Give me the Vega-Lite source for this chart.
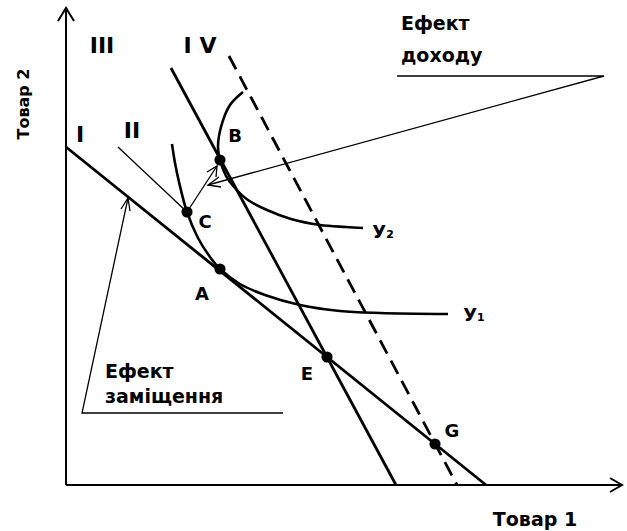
{
  "$schema": "https://vega.github.io/schema/vega-lite/v6.json",
  "width": 627,
  "height": 531,
  "autosize": "none",
  "padding": 0,
  "background": "white",
  "config": {"view": {"stroke": null}},
  "datasets": {
    "straight": [
      {"id": "I", "o": 0, "x": 0, "y": 338},
      {"id": "I", "o": 1, "x": 420, "y": 0},
      {"id": "IV", "o": 0, "x": 105, "y": 417},
      {"id": "IV", "o": 1, "x": 330, "y": 0}
    ],
    "curves": [
      {"id": "Y1", "o": 0, "x": 106, "y": 341},
      {"id": "Y1", "o": 1, "x": 109, "y": 322},
      {"id": "Y1", "o": 2, "x": 113, "y": 303},
      {"id": "Y1", "o": 3, "x": 121, "y": 273},
      {"id": "Y1", "o": 4, "x": 132, "y": 247},
      {"id": "Y1", "o": 5, "x": 144, "y": 228},
      {"id": "Y1", "o": 6, "x": 154, "y": 216},
      {"id": "Y1", "o": 7, "x": 174, "y": 201},
      {"id": "Y1", "o": 8, "x": 199, "y": 190},
      {"id": "Y1", "o": 9, "x": 234, "y": 180},
      {"id": "Y1", "o": 10, "x": 274, "y": 174},
      {"id": "Y1", "o": 11, "x": 314, "y": 172},
      {"id": "Y1", "o": 12, "x": 382, "y": 171},
      {"id": "Y2", "o": 0, "x": 177, "y": 393},
      {"id": "Y2", "o": 1, "x": 164, "y": 380},
      {"id": "Y2", "o": 2, "x": 155, "y": 358},
      {"id": "Y2", "o": 3, "x": 152, "y": 338},
      {"id": "Y2", "o": 4, "x": 154, "y": 325},
      {"id": "Y2", "o": 5, "x": 160, "y": 309},
      {"id": "Y2", "o": 6, "x": 168, "y": 298},
      {"id": "Y2", "o": 7, "x": 182, "y": 285},
      {"id": "Y2", "o": 8, "x": 201, "y": 275},
      {"id": "Y2", "o": 9, "x": 225, "y": 266},
      {"id": "Y2", "o": 10, "x": 254, "y": 260},
      {"id": "Y2", "o": 11, "x": 280, "y": 258},
      {"id": "Y2", "o": 12, "x": 297, "y": 257}
    ],
    "dashed": [
      {"id": "IVd", "o": 0, "x": 163, "y": 429},
      {"id": "IVd", "o": 1, "x": 391, "y": 0}
    ],
    "axes": [
      {"id": "yax", "o": 0, "x": 0, "y": 0},
      {"id": "yax", "o": 1, "x": 0, "y": 477},
      {"id": "yarr", "o": 0, "x": -8, "y": 464},
      {"id": "yarr", "o": 1, "x": 0, "y": 477},
      {"id": "yarr", "o": 2, "x": 8, "y": 464},
      {"id": "xax", "o": 0, "x": 0, "y": 0},
      {"id": "xax", "o": 1, "x": 556, "y": 0},
      {"id": "xarr", "o": 0, "x": 544, "y": 7},
      {"id": "xarr", "o": 1, "x": 556, "y": 0},
      {"id": "xarr", "o": 2, "x": 544, "y": -7}
    ],
    "thin": [
      {"id": "II", "o": 0, "x": 52, "y": 338},
      {"id": "II", "o": 1, "x": 121, "y": 273},
      {"id": "inc", "o": 0, "x": 331, "y": 409},
      {"id": "inc", "o": 1, "x": 538, "y": 409},
      {"id": "inc", "o": 2, "x": 142, "y": 300},
      {"id": "inch", "o": 0, "x": 155, "y": 298},
      {"id": "inch", "o": 1, "x": 142, "y": 300},
      {"id": "inch", "o": 2, "x": 153, "y": 308},
      {"id": "cb", "o": 0, "x": 121, "y": 273},
      {"id": "cb", "o": 1, "x": 151, "y": 319},
      {"id": "cbh", "o": 0, "x": 150, "y": 308},
      {"id": "cbh", "o": 1, "x": 151, "y": 319},
      {"id": "cbh", "o": 2, "x": 141, "y": 313},
      {"id": "sub", "o": 0, "x": 217, "y": 72},
      {"id": "sub", "o": 1, "x": 16, "y": 72},
      {"id": "sub", "o": 2, "x": 62, "y": 287},
      {"id": "subh", "o": 0, "x": 64, "y": 274},
      {"id": "subh", "o": 1, "x": 62, "y": 287},
      {"id": "subh", "o": 2, "x": 55, "y": 276}
    ],
    "pts": [
      {"name": "B", "x": 154, "y": 325},
      {"name": "C", "x": 121, "y": 273},
      {"name": "A", "x": 154, "y": 216},
      {"name": "E", "x": 261, "y": 128},
      {"name": "G", "x": 369, "y": 41}
    ],
    "numerals": [
      {"t": "III", "x": 36, "y": 432},
      {"t": "I V", "x": 134, "y": 432},
      {"t": "I", "x": 14, "y": 343},
      {"t": "II", "x": 66, "y": 347}
    ],
    "ptlabels": [
      {"t": "B", "x": 169, "y": 343},
      {"t": "C", "x": 139, "y": 257},
      {"t": "A", "x": 136, "y": 185},
      {"t": "E", "x": 241, "y": 105},
      {"t": "G", "x": 386, "y": 48},
      {"t": "У₂", "x": 317, "y": 247},
      {"t": "У₁", "x": 408, "y": 164}
    ],
    "notes": [
      {"t": "Ефект", "x": 335, "y": 455},
      {"t": "доходу", "x": 335, "y": 423},
      {"t": "Ефект", "x": 39, "y": 107},
      {"t": "заміщення", "x": 39, "y": 82}
    ],
    "xtitle": [{"t": "Товар 1", "x": 469, "y": -41}],
    "ytitle": [{"t": "Товар 2", "x": -42, "y": 381}]
  },
  "encoding": {
    "x": {"field": "x", "type": "quantitative", "scale": {"domain": [-66, 561], "nice": false, "zero": false}, "axis": null},
    "y": {"field": "y", "type": "quantitative", "scale": {"domain": [-46, 485], "nice": false, "zero": false}, "axis": null}
  },
  "layer": [
    {
      "data": {"name": "axes"},
      "mark": {"type": "line", "color": "#000000", "strokeWidth": 2, "interpolate": "linear"},
      "encoding": {"detail": {"field": "id"}, "order": {"field": "o"}}
    },
    {
      "data": {"name": "thin"},
      "mark": {"type": "line", "color": "#000000", "strokeWidth": 1.3, "interpolate": "linear"},
      "encoding": {"detail": {"field": "id"}, "order": {"field": "o"}}
    },
    {
      "data": {"name": "straight"},
      "mark": {"type": "line", "color": "#000000", "strokeWidth": 2.8, "interpolate": "linear"},
      "encoding": {"detail": {"field": "id"}, "order": {"field": "o"}}
    },
    {
      "data": {"name": "dashed"},
      "mark": {"type": "line", "color": "#000000", "strokeWidth": 2.8, "strokeDash": [15, 8], "interpolate": "linear"},
      "encoding": {"detail": {"field": "id"}, "order": {"field": "o"}}
    },
    {
      "data": {"name": "curves"},
      "mark": {"type": "line", "color": "#000000", "strokeWidth": 2.6, "interpolate": "catmull-rom"},
      "encoding": {"detail": {"field": "id"}, "order": {"field": "o"}}
    },
    {
      "data": {"name": "pts"},
      "mark": {"type": "point", "filled": true, "color": "#000000", "size": 125, "opacity": 1}
    },
    {
      "data": {"name": "numerals"},
      "mark": {"type": "text", "font": "DejaVu Sans", "fontWeight": "bold", "fontSize": 22, "align": "center", "baseline": "alphabetic", "color": "#000000"},
      "encoding": {"text": {"field": "t"}}
    },
    {
      "data": {"name": "ptlabels"},
      "mark": {"type": "text", "font": "DejaVu Sans", "fontWeight": "bold", "fontSize": 18, "align": "center", "baseline": "alphabetic", "color": "#000000"},
      "encoding": {"text": {"field": "t"}}
    },
    {
      "data": {"name": "notes"},
      "mark": {"type": "text", "font": "DejaVu Sans", "fontWeight": "bold", "fontSize": 19, "align": "left", "baseline": "alphabetic", "color": "#000000"},
      "encoding": {"text": {"field": "t"}}
    },
    {
      "data": {"name": "xtitle"},
      "mark": {"type": "text", "font": "DejaVu Sans", "fontWeight": "bold", "fontSize": 19, "align": "center", "baseline": "alphabetic", "color": "#000000"},
      "encoding": {"text": {"field": "t"}}
    },
    {
      "data": {"name": "ytitle"},
      "mark": {"type": "text", "font": "DejaVu Sans", "fontWeight": "bold", "fontSize": 16, "align": "center", "baseline": "middle", "angle": 270, "color": "#000000"},
      "encoding": {"text": {"field": "t"}}
    }
  ]
}
